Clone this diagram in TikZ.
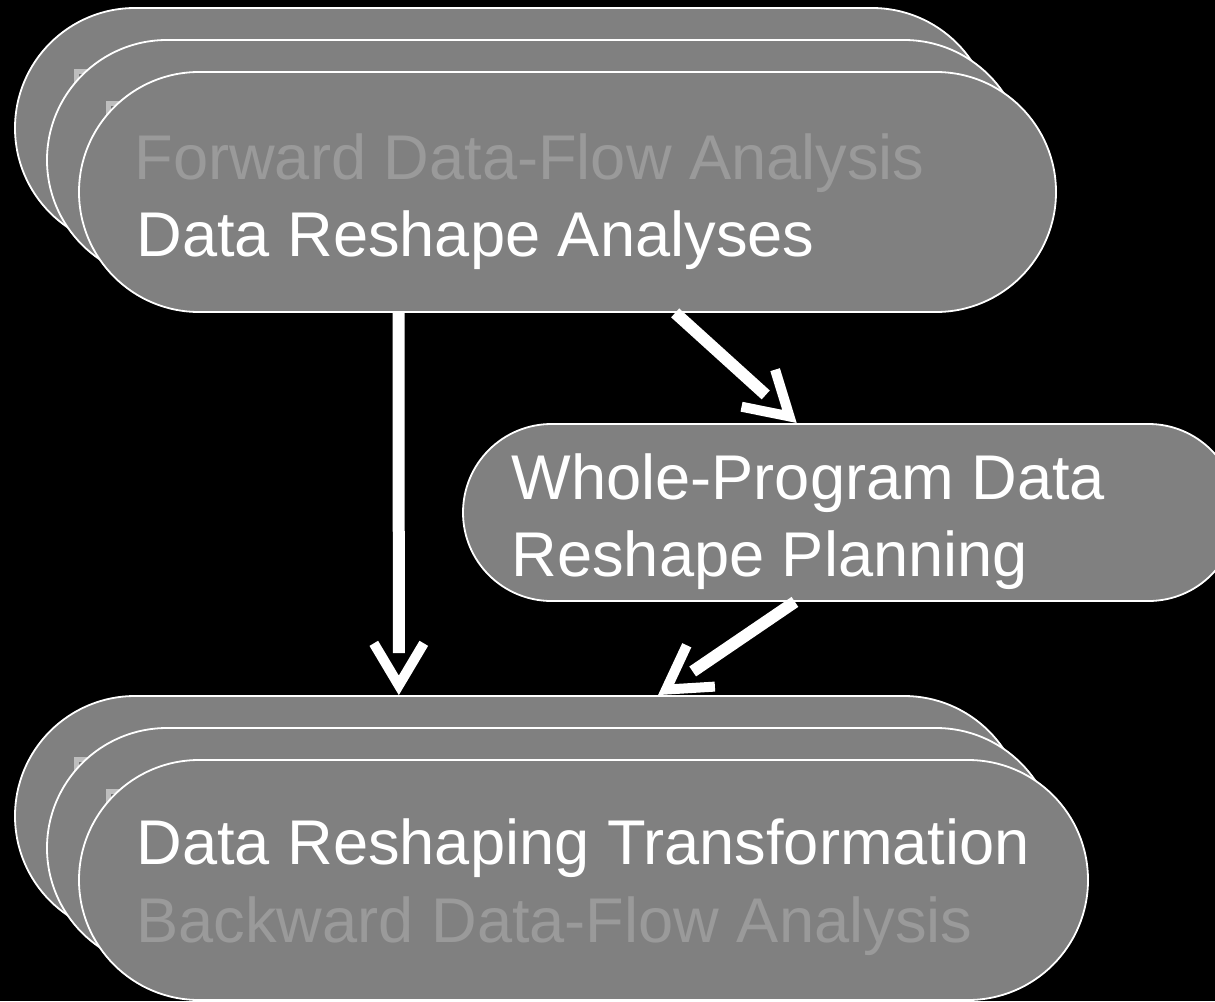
\documentclass[tikz,border=0pt]{standalone}
\usepackage{fontspec}
\setmainfont{Liberation Sans}
\usetikzlibrary{arrows.meta,calc,decorations.markings}
\definecolor{boxgray}{HTML}{808080}
\definecolor{dimtext}{HTML}{9A9A9A}
\definecolor{chip}{HTML}{BEBEBE}
\definecolor{chipin}{HTML}{707070}
\newcommand{\FlowTip}{Straight Barb[length=21pt,width=25pt,line width=5pt,sharp]}
\tikzset{stage/.style={draw=white,line width=.9pt,fill=boxgray,rounded corners=60pt,minimum height=120pt,inner sep=0pt},
  flow/.style={draw=white,line width=6pt,shorten >=21pt,decoration={markings,mark=at position 1 with {\arrow{\FlowTip}}},postaction={decorate}},
  lbl/.style={anchor=base west,inner sep=0pt,text=white,font=\fontsize{31.6pt}{38pt}\selectfont},
  dimlbl/.style={lbl,text=dimtext}}
\newcommand{\Chip}[1]{\fill[chip]($(#1.north west)+(60,62)$)rectangle++(14,14);\fill[chipin]($(#1.north west)+(65,67)$)rectangle++(5,5);}
\begin{document}
\begin{tikzpicture}[x=.5pt,y=-.5pt]
\fill[black](0,0)rectangle(1215,1001);\useasboundingbox(0,0)rectangle(1215,1001);\clip(0,0)rectangle(1215,1001);
% analyses stack
\node[stage,minimum width=488.5pt](dra1)at(503.5,128){};\Chip{dra1}
\node[stage,minimum width=488.5pt](dra2)at(535.5,160){};\Chip{dra2}
\node[stage,minimum width=488.5pt](dra3)at(567.5,192){};
\node[dimlbl](fwd)at($(dra3.north west)+(56,108)$){Forward Data-Flow Analysis};
\node[lbl](ana)at($(dra3.north west)+(58,185)$){Data Reshape Analyses};
% planning
\node[stage,minimum width=387pt,minimum height=88.5pt,rounded corners=44.25pt](plan)at(850,512.5){};
\node[lbl](pl1)at($(plan.north west)+(49,76)$){Whole-Program Data};
\node[lbl](pl2)at($(plan.north west)+(49,153)$){Reshape Planning};
% transformation stack
\node[stage,minimum width=504.5pt](drt1)at(519.5,816){};\Chip{drt1}
\node[stage,minimum width=504.5pt](drt2)at(551.5,848){};\Chip{drt2}
\node[stage,minimum width=504.5pt](drt3)at(583.5,880){};
\node[lbl](trf)at($(drt3.north west)+(58,105)$){Data Reshaping Transformation};
\node[dimlbl](bwd)at($(drt3.north west)+(58,183)$){Backward Data-Flow Analysis};
% arrows
\draw[flow]($(dra3.south west)!.3275!(dra3.south east)$)--($(drt1.north west)!.3806!(drt1.north east)$);
\draw[flow]($(dra3.south west)!.61!(dra3.south east)$)--($(plan.north west)!.4315!(plan.north east)$);
\draw[flow]($(plan.south west)!.429!(plan.south east)$)--($(drt1.north west)!.637!(drt1.north east)$);
\end{tikzpicture}
\end{document}
